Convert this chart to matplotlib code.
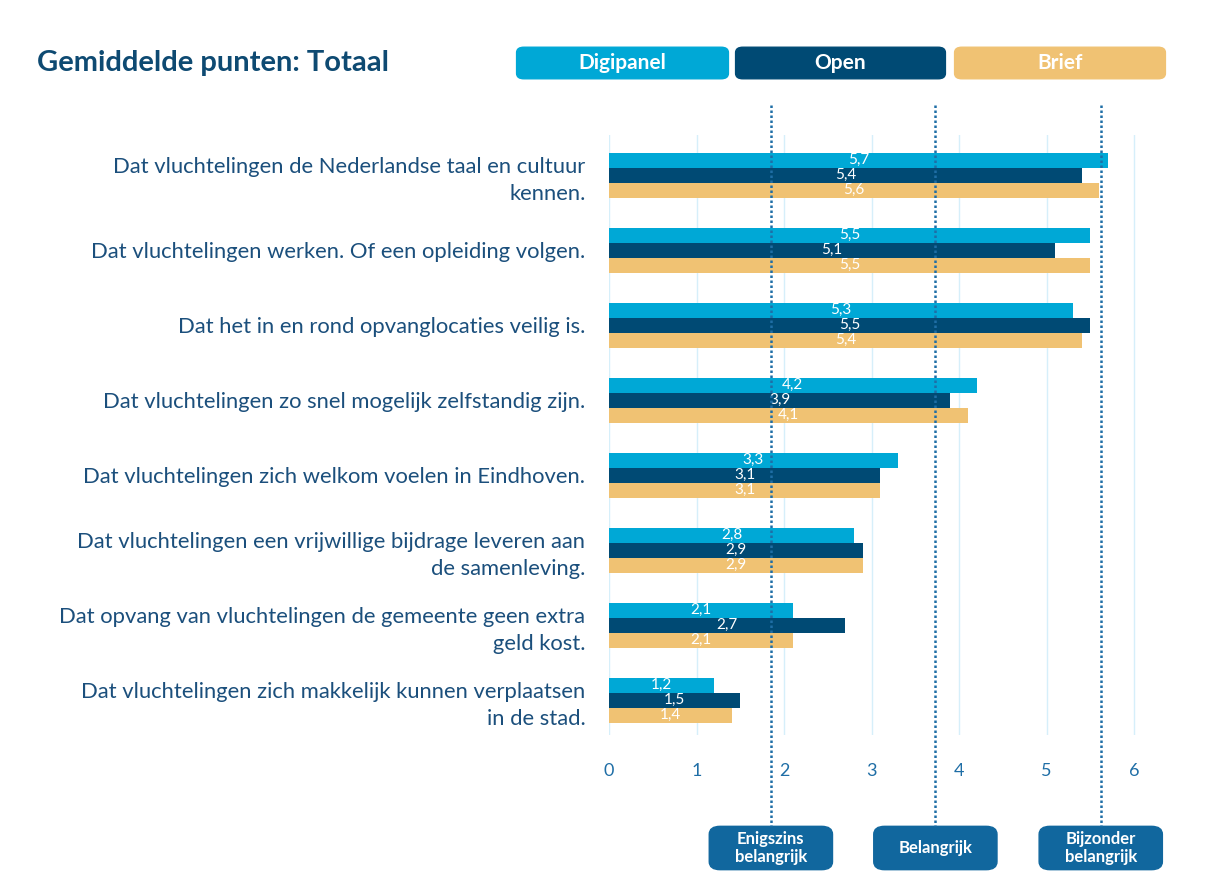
import numpy as np
import matplotlib.pyplot as plt
from matplotlib.patches import FancyBboxPatch
from matplotlib.lines import Line2D

plt.rcParams['font.family'] = ['Lato', 'DejaVu Sans']

categorieen = [
    "Dat vluchtelingen de Nederlandse taal en cultuur\nkennen.",
    "Dat vluchtelingen werken. Of een opleiding volgen.",
    "Dat het in en rond opvanglocaties veilig is.",
    "Dat vluchtelingen zo snel mogelijk zelfstandig zijn.",
    "Dat vluchtelingen zich welkom voelen in Eindhoven.",
    "Dat vluchtelingen een vrijwillige bijdrage leveren aan\nde samenleving.",
    "Dat opvang van vluchtelingen de gemeente geen extra\ngeld kost.",
    "Dat vluchtelingen zich makkelijk kunnen verplaatsen\nin de stad.",
]
digipanel = [5.7, 5.5, 5.3, 4.2, 3.3, 2.8, 2.1, 1.2]
open_ = [5.4, 5.1, 5.5, 3.9, 3.1, 2.9, 2.7, 1.5]
brief = [5.6, 5.5, 5.4, 4.1, 3.1, 2.9, 2.1, 1.4]
reeksen = ["Digipanel", "Open", "Brief"]
kleuren = ["#00a8d6", "#004a74", "#f0c273"]

# referentielijnen (niveaus)
niveaus = [1.85, 3.73, 5.62]
niveau_labels = ["Enigszins\nbelangrijk", "Belangrijk", "Bijzonder\nbelangrijk"]

W, H = 1207, 889
fig = plt.figure(figsize=(W / 100, H / 100), dpi=100)
ax_l, ax_r, ax_t, ax_b = 609, 609 + 6.3 * 87.5, 135, 735
ax = fig.add_axes([ax_l / W, 1 - ax_b / H, (ax_r - ax_l) / W, (ax_b - ax_t) / H])

y = np.arange(len(categorieen))
h = 0.2
for i, (waarden, kleur) in enumerate(zip([digipanel, open_, brief], kleuren)):
    pos = y + (i - 1) * h
    ax.barh(pos, waarden, height=h, color=kleur, zorder=3)
    for p, v in zip(pos, waarden):
        ax.text(v / 2, p, f"{v:.1f}".replace(".", ","), ha="center", va="center",
                color="white", fontsize=11, zorder=4)

ax.set_xlim(0, 6.3)
ax.set_ylim(7 + 35 / 75, -40 / 75)
ax.set_xticks(range(7))
ax.tick_params(axis="x", length=0, labelsize=13, labelcolor="#1f6ea6", pad=20)
ax.set_yticks(y)
ax.set_yticklabels(categorieen, fontsize=15.8, color="#1b4f7c", linespacing=1.45)
ax.tick_params(axis="y", length=0, pad=17)
ax.grid(axis="x", color="#d6effa", linewidth=1, zorder=0)
for s in ax.spines.values():
    s.set_visible(False)

# gestippelde niveaulijnen en labels
def fx(v):
    return (ax_l + v * 87.5) / W

for v, lab in zip(niveaus, niveau_labels):
    x = fx(v)
    fig.add_artist(Line2D([x, x], [1 - 105 / H, 1 - 826 / H], color="#1f6ea6",
                          linestyle=(0, (1, 1)), linewidth=1.8, zorder=5))
    fig.add_artist(FancyBboxPatch((x - 58 / W, 1 - 867 / H), 116 / W, 38 / H,
                                  boxstyle="round,pad=0.003,rounding_size=0.009",
                                  transform=fig.transFigure, color="#11679e"))
    fig.text(x, 1 - 848 / H, lab, ha="center", va="center", color="white",
             fontsize=12, fontweight="bold", linespacing=1.2)

# titel
fig.text(37 / W, 1 - 63 / H, "Gemiddelde punten: Totaal", fontsize=21,
         fontweight="bold", color="#0e4a72", va="center")

# legenda als knoppen
for (x0, x1), naam, kleur in zip([(519, 726), (738, 943), (957, 1163)], reeksen, kleuren):
    fig.add_artist(FancyBboxPatch((x0 / W, 1 - 77 / H), (x1 - x0) / W, 28 / H,
                                  boxstyle="round,pad=0.002,rounding_size=0.006",
                                  transform=fig.transFigure, color=kleur))
    fig.text((x0 + x1) / 2 / W, 1 - 63 / H, naam, ha="center", va="center",
             color="white", fontsize=15, fontweight="bold")

fig.savefig("out.png", dpi=100)
